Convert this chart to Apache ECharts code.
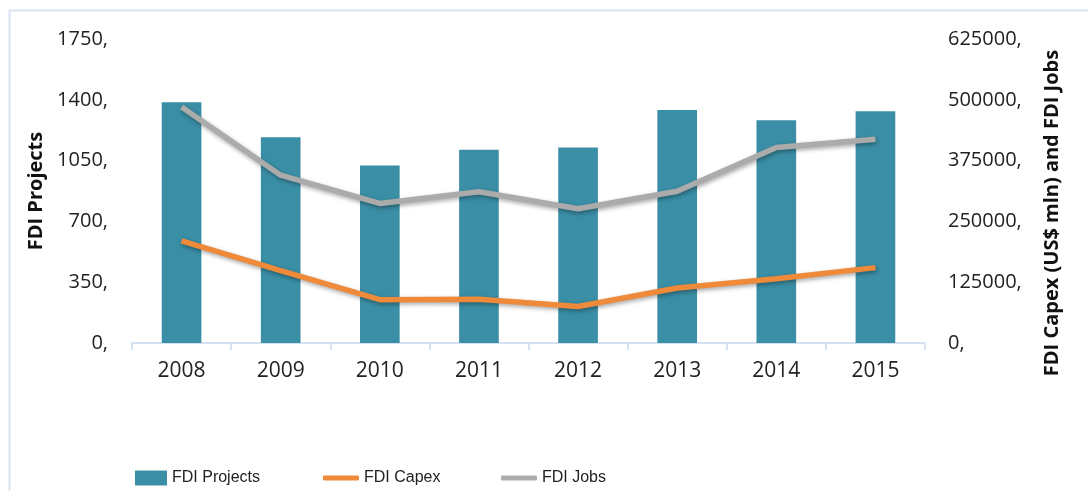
<!DOCTYPE html>
<html>
<head>
<meta charset="utf-8">
<script src="https://cdn.jsdelivr.net/npm/echarts@6/dist/echarts.min.js"></script>
<style>html,body{margin:0;padding:0;background:#fff;}#c{width:1088px;height:491px;}</style>
</head>
<body>
<div id="c"></div>
<script>
const years = ['2008','2009','2010','2011','2012','2013','2014','2015'];
const fdiProjects = [1386, 1184, 1022, 1112, 1126, 1342, 1282, 1334];
const fdiCapex = [210000, 149000, 89000, 90000, 75000, 113000, 132000, 155000];
const fdiJobs = [485000, 345000, 287000, 311000, 276000, 312000, 402000, 419000];
const leftTicks = {min: 0, max: 1750, interval: 350};
const rightTicks = {min: 0, max: 625000, interval: 125000};

const font = '"Open Sans", "Liberation Sans", sans-serif';
const legendFont = {fontFamily: '"Liberation Sans", sans-serif', fontSize: 16, color: '#222'};
const chart = echarts.init(document.getElementById('c'), null, {renderer: 'canvas'});
const shadow = {shadowColor: 'rgba(0,0,0,0.35)', shadowBlur: 4, shadowOffsetX: 1, shadowOffsetY: 2};
const fmt = v => v + ',';
chart.setOption({
  animation: false,
  backgroundColor: '#ffffff',
  graphic: [{
    type: 'rect', left: 7, top: 8, shape: {width: 1100, height: 520},
    style: {fill: 'none', stroke: '#D7E3F1', lineWidth: 2}, silent: true, z: -1
  }],
  grid: {left: 132, right: 163, top: 39, bottom: 148},
  legend: [{
    left: 130, top: 465, itemWidth: 32, itemHeight: 15, itemGap: 5,
    textStyle: legendFont,
    data: [{name: 'FDI Projects', icon: 'rect'}]
  }, {
    left: 318, top: 465, itemWidth: 36, itemHeight: 5,
    textStyle: legendFont,
    data: [{name: 'FDI Capex', icon: 'roundRect'}]
  }, {
    left: 496, top: 465, itemWidth: 36, itemHeight: 5,
    textStyle: legendFont,
    data: [{name: 'FDI Jobs', icon: 'roundRect'}]
  }],
  xAxis: {
    type: 'category', data: years, boundaryGap: true,
    axisLine: {lineStyle: {color: '#D3E1F0', width: 2}},
    axisTick: {show: true, length: 7, lineStyle: {color: '#D3E1F0', width: 2}},
    axisLabel: {fontFamily: font, fontSize: 21, color: '#222', margin: 18}
  },
  yAxis: [{
    type: 'value', position: 'left', min: leftTicks.min, max: leftTicks.max, interval: leftTicks.interval,
    name: 'FDI Projects', nameLocation: 'middle', nameGap: 85, nameRotate: 90,
    nameTextStyle: {fontFamily: font, fontSize: 20, fontWeight: 'bold', color: '#111'},
    axisLine: {show: false}, axisTick: {show: false}, splitLine: {show: false},
    axisLabel: {formatter: fmt, fontFamily: font, fontSize: 20, color: '#222', margin: 24}
  }, {
    type: 'value', position: 'right', min: rightTicks.min, max: rightTicks.max, interval: rightTicks.interval,
    name: 'FDI Capex (US$ mln) and FDI Jobs', nameLocation: 'middle', nameGap: 117, nameRotate: 90,
    nameTextStyle: {fontFamily: font, fontSize: 20, fontWeight: 'bold', color: '#111', padding: [0, 44, 0, 0]},
    axisLine: {show: false}, axisTick: {show: false}, splitLine: {show: false},
    axisLabel: {formatter: fmt, fontFamily: font, fontSize: 20, color: '#222', margin: 23}
  }],
  series: [{
    name: 'FDI Projects', type: 'bar', yAxisIndex: 0, data: fdiProjects, barWidth: '40%',
    itemStyle: {color: '#3A8EA5'}
  }, {
    name: 'FDI Capex', type: 'line', yAxisIndex: 1, data: fdiCapex, symbol: 'none',
    lineStyle: Object.assign({color: '#EF8A3A', width: 5.5}, shadow), itemStyle: {color: '#EF8A3A'}
  }, {
    name: 'FDI Jobs', type: 'line', yAxisIndex: 1, data: fdiJobs, symbol: 'none',
    lineStyle: Object.assign({color: '#ABABAB', width: 5.5}, shadow), itemStyle: {color: '#ABABAB'}
  }]
});
</script>
</body>
</html>
